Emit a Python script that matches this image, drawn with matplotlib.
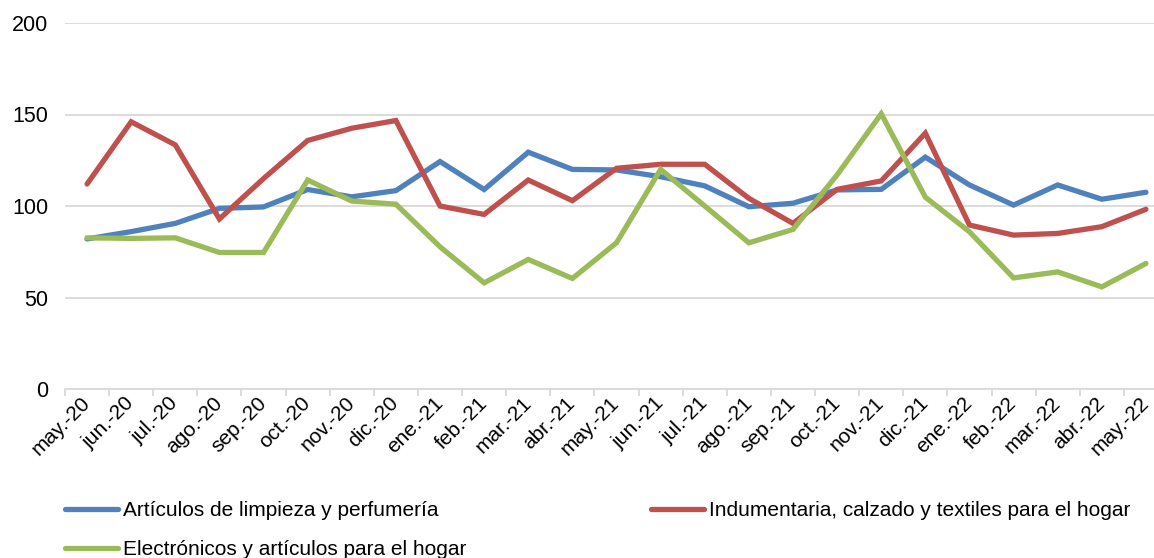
import numpy as np
import matplotlib
matplotlib.use("Agg")
from matplotlib import pyplot as plt

plt.rcParams['font.family'] = ['Liberation Sans', 'DejaVu Sans']

# Month labels on the x-axis
months = ["may.-20", "jun.-20", "jul.-20", "ago.-20", "sep.-20", "oct.-20", "nov.-20",
          "dic.-20", "ene.-21", "feb.-21", "mar.-21", "abr.-21", "may.-21", "jun.-21",
          "jul.-21", "ago.-21", "sep.-21", "oct.-21", "nov.-21", "dic.-21", "ene.-22",
          "feb.-22", "mar.-22", "abr.-22", "may.-22"]

# Series values
limpieza = [82, 86, 90.5, 98.7, 99.5, 109, 105, 108.4, 124.3, 109, 129.4, 120, 119.7,
            116, 111, 99.6, 101.5, 108.8, 109.1, 126.7, 111.5, 100.5, 111.5, 103.7, 107.5]
indumentaria = [112, 146, 133.4, 92.9, 115, 135.8, 142.5, 146.7, 100, 95.4, 114.2, 102.9,
                120.6, 122.8, 122.8, 104.2, 90.5, 109.1, 113.7, 139.8, 89.6, 84.1, 85,
                88.7, 98.2]
electronicos = [82.6, 82.3, 82.6, 74.6, 74.6, 114.2, 102.7, 101, 77.7, 58, 70.8, 60.4,
                79.9, 120, 100, 79.9, 87.2, 117, 150.4, 104.8, 85.9, 60.7, 64, 55.8, 68.6]

series_labels = ["Artículos de limpieza y perfumería",
                 "Indumentaria, calzado y textiles para el hogar",
                 "Electrónicos y artículos para el hogar"]
colors = ["#4F81BD", "#C0504D", "#9BBB59"]

W, H = 1154, 558
fig = plt.figure(figsize=(W / 100, H / 100), dpi=100)
# plot area from x=65 to 1168, y=23 to 389 (pixels)
ax = fig.add_axes([65 / W, 1 - 389 / H, 1103 / W, 366 / H])

x = np.arange(len(months))
lines = []
for vals, c, lab in zip([limpieza, indumentaria, electronicos], colors, series_labels):
    ln, = ax.plot(x, vals, color=c, linewidth=3.8, solid_capstyle='round',
                  solid_joinstyle='miter', label=lab, zorder=3)
    lines.append(ln)

ax.set_xlim(-0.5, len(months) - 0.5)
ax.set_ylim(0, 200)
ax.set_yticks([0, 50, 100, 150, 200])
ax.yaxis.grid(True, color="#D9D9D9", linewidth=1.3)
ax.set_axisbelow(True)
for s in ["top", "right", "left"]:
    ax.spines[s].set_visible(False)
ax.spines["bottom"].set_color("#D9D9D9")
ax.spines["bottom"].set_linewidth(1.3)

ax.tick_params(axis='y', length=0, pad=12, labelsize=15.5)
ax.set_xticks(x)
ax.set_xticks(np.arange(-0.5, len(months), 1), minor=True)
ax.tick_params(axis='x', which='major', length=0, pad=8, labelsize=15)
ax.tick_params(axis='x', which='minor', length=5, width=1.3, color="#D9D9D9")
ax.set_xticklabels(months, rotation=45, ha='right', va='center', rotation_mode='anchor')

# Legend: two columns, filled column-wise
handles = [lines[0], lines[2], lines[1]]
fig.legend(handles=handles, labels=[h.get_label() for h in handles], ncol=2,
           loc='upper left', bbox_to_anchor=(65 / W, 1 - 501 / H), frameon=False,
           fontsize=15, handlelength=2.55, handletextpad=0.25, columnspacing=8.85,
           labelspacing=0.95, borderaxespad=0, borderpad=0)

fig.savefig("out.png", dpi=100)
